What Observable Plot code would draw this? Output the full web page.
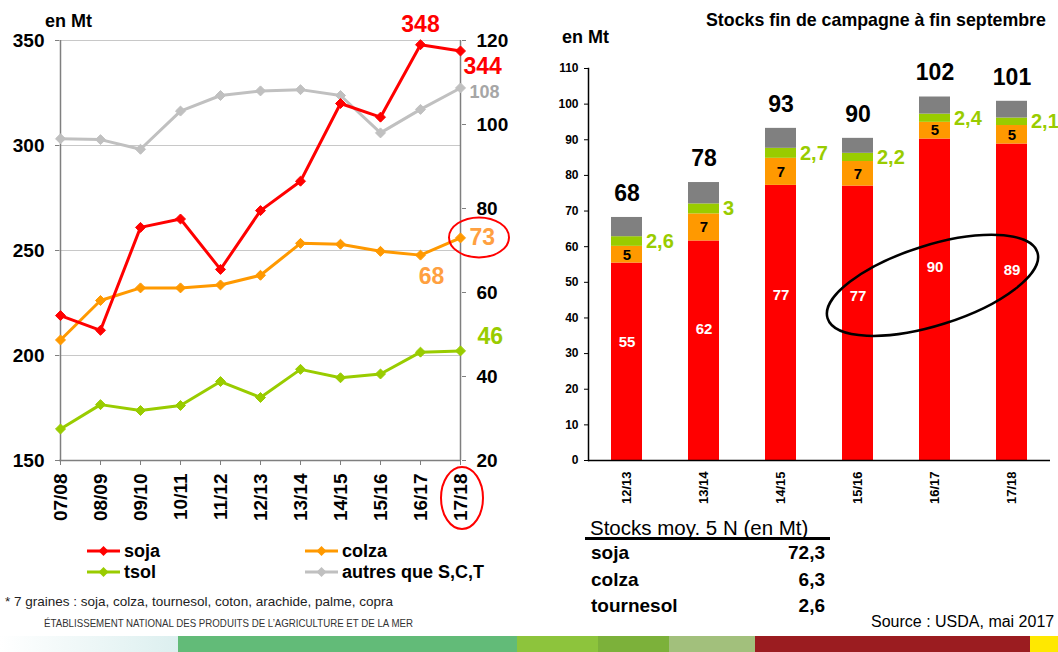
<!DOCTYPE html>
<html><head><meta charset="utf-8">
<script src="https://cdn.jsdelivr.net/npm/d3@7"></script>
<script src="https://cdn.jsdelivr.net/npm/@observablehq/plot@0.6"></script>
<style>
body{margin:0;background:#fff;font-family:"Liberation Sans",Arial,sans-serif;}
#root{position:relative;width:1058px;height:652px;overflow:hidden;background:#fff;}
.abs{position:absolute;white-space:nowrap;line-height:1;}
.b{font-weight:bold;}
</style></head><body><div id="root"></div>
<script>
// ---------- Left chart data (production, Mt) ----------
const seasons = ["07/08","08/09","09/10","10/11","11/12","12/13","13/14","14/15","15/16","16/17","17/18"];
const soja   = [219, 212, 261, 265, 241, 269, 283, 320, 313.5, 348, 345];      // left axis
const colza  = [48.7, 58.1, 61.1, 61.1, 61.8, 64.1, 71.7, 71.5, 69.8, 68.9, 73]; // right axis
const tsol   = [27.5, 33.3, 31.9, 33.1, 38.8, 35, 41.7, 39.7, 40.6, 45.8, 46.1];  // right axis
const autres = [96.6, 96.4, 94.1, 103.2, 106.9, 108, 108.3, 106.9, 98, 103.6, 108.7]; // right axis
const leftTicks = [150, 200, 250, 300, 350];
const rightTicks = [20, 40, 60, 80, 100, 120];
const gridTicks = [200, 250, 300, 350];
const seriesNames = ["soja", "colza", "tsol", "autres"];
const legendLabels = ["soja", "colza", "tsol", "autres que S,C,T"];
const lineColors = ["#ff0000", "#ff9900", "#99cc00", "#c0c0c0"];
const endLabels = ["348", "344", "108", "73", "68", "46"];

// ---------- Right chart data (stocks fin de campagne, Mt) ----------
const campagnes = ["12/13","13/14","14/15","15/16","16/17","17/18"];
const stockSoja   = [55.4, 61.6, 77.2, 77.0, 90.2, 88.8];
const stockColza  = [4.7, 7.6, 7.6, 6.9, 4.7, 5.2];
const stockTsol   = [2.7, 2.8, 2.8, 2.3, 2.3, 2.1];
const stockAutres = [5.4, 6.0, 5.6, 4.2, 4.8, 4.7];
const totalLabels = ["68","78","93","90","102","101"];
const sojaLabels  = ["55","62","77","77","90","89"];
const colzaLabels = ["5","7","7","7","5","5"];
const tsolLabels  = ["2,6","3","2,7","2,2","2,4","2,1"];
const barColors = ["#ff0000", "#ff9900", "#99cc00", "#808080"];
const stockTicks = [0,10,20,30,40,50,60,70,80,90,100,110];

// ---------- Table ----------
const tableTitle = "Stocks moy. 5 N (en Mt)";
const tableNames = ["soja", "colza", "tournesol"];
const tableValues = ["72,3", "6,3", "2,6"];

const FONT = '"Liberation Sans", Arial, sans-serif';
const root = document.getElementById("root");
function addText(txt, css, cls) {
  const d = document.createElement("div");
  d.className = "abs " + (cls || "");
  d.textContent = txt;
  Object.assign(d.style, css);
  root.appendChild(d);
  return d;
}

// ===== LEFT CHART =====
const toLeft = v => 150 + (v - 20) * 2; // right axis (20..120) -> left axis (150..350)
const rightSeries = {colza, tsol, autres};
const lineRows = [];
["autres", "tsol", "colza", "soja"].forEach(name => {
  seasons.forEach((s, i) => {
    const v = name === "soja" ? soja[i] : toLeft(rightSeries[name][i]);
    lineRows.push({season: s, serie: name, y: v});
  });
});
const n = seasons.length - 1;
const lblRows = [
  {x: seasons[n-1], y: soja[n-1], t: endLabels[0], c: "#ff0000", dx: 0, dy: -20, a: "middle", fs: 23},
  {x: seasons[n], y: soja[n], t: endLabels[1], c: "#ff0000", dx: 3, dy: 16, a: "start", fs: 23},
  {x: seasons[n], y: toLeft(autres[n]), t: endLabels[2], c: "#a6a6a6", dx: 9, dy: 4, a: "start", fs: 18},
  {x: seasons[n], y: toLeft(colza[n]), t: endLabels[3], c: "#ffa040", dx: 9, dy: 0, a: "start", fs: 23},
  {x: seasons[n-1], y: toLeft(colza[n-1]), t: endLabels[4], c: "#ffa040", dx: 11, dy: 22, a: "middle", fs: 23},
  {x: seasons[n], y: toLeft(tsol[n]), t: endLabels[5], c: "#99cc00", dx: 17, dy: -14, a: "start", fs: 23}
];
const left = Plot.plot({
  width: 530, height: 540,
  marginLeft: 59, marginRight: 69, marginTop: 40, marginBottom: 80,
  style: {fontFamily: FONT, fontWeight: "bold", overflow: "visible", background: "transparent", color: "#000"},
  x: {type: "point", domain: seasons, padding: 0, label: null},
  y: {domain: [150, 350], label: null},
  color: {domain: seriesNames, range: lineColors},
  marks: [
    Plot.ruleY(gridTicks, {stroke: "#c8c8c8", strokeWidth: 1}),
    Plot.ruleX([seasons[0], seasons[n]], {stroke: "#7f7f7f", strokeWidth: 1.5}),
    Plot.ruleY([150], {stroke: "#7f7f7f", strokeWidth: 1.5}),
    Plot.axisY({anchor: "left", ticks: leftTicks, tickSize: 4, tickPadding: 11, fontSize: 19, stroke: "#7f7f7f", fill: "#000", label: null}),
    Plot.axisY({anchor: "right", ticks: rightTicks.map(toLeft), tickFormat: d => String((d - 150) / 2 + 20), tickSize: 4, tickPadding: 11, fontSize: 19, stroke: "#7f7f7f", fill: "#000", label: null}),
    Plot.axisX({tickRotate: -90, tickSize: 5, tickPadding: 8, fontSize: 19, stroke: "#7f7f7f", fill: "#000", label: null}),
    Plot.line(lineRows, {x: "season", y: "y", z: "serie", stroke: "serie", strokeWidth: 3}),
    Plot.dot(lineRows, {x: "season", y: "y", fill: "serie", stroke: "serie", symbol: "diamond2", r: 4.5, strokeWidth: 1}),
    ...lblRows.map(r => Plot.text([r], {x: "x", y: "y", text: "t", fill: r.c, dx: r.dx, dy: r.dy, textAnchor: r.a, fontSize: r.fs, fontWeight: "bold"}))
  ]
});
root.appendChild(left);
Object.assign(left.style, {position: "absolute", left: "0px", top: "0px"});
{
  const xs = left.scale("x"), ys = left.scale("y");
  const sv = d3.select(left);
  const cx73 = xs.apply(seasons[n]) + 19, cy73 = ys.apply(toLeft(colza[n]));
  sv.append("ellipse").attr("cx", cx73).attr("cy", cy73).attr("rx", 30).attr("ry", 20)
    .attr("fill", "none").attr("stroke", "#ff0000").attr("stroke-width", 2);
  sv.append("ellipse").attr("cx", xs.apply(seasons[n]) + 2).attr("cy", ys.apply(150) + 38).attr("rx", 21).attr("ry", 31)
    .attr("fill", "none").attr("stroke", "#ff0000").attr("stroke-width", 2);
}

// ===== RIGHT CHART =====
const stockSeries = [stockSoja, stockColza, stockTsol, stockAutres];
const stackRows = campagnes.flatMap((c, i) => seriesNames.map((s, k) => ({c, serie: s, v: stockSeries[k][i]})));
const sumAt = (i, k) => stockSeries.slice(0, k).reduce((a, arr) => a + arr[i], 0);
const totRows = campagnes.map((c, i) => ({c, y: sumAt(i, 4), t: totalLabels[i]}));
const tsolRows = campagnes.map((c, i) => ({c, y: sumAt(i, 2) + stockTsol[i] / 2, t: tsolLabels[i]}));
const colzaRows = campagnes.map((c, i) => ({c, y: sumAt(i, 1) + stockColza[i] / 2, t: colzaLabels[i]}));
const sojaRows = campagnes.map((c, i) => ({c, y: stockSoja[i] * 0.6, t: sojaLabels[i]}));
const right = Plot.plot({
  width: 518, height: 520,
  marginLeft: 48, marginRight: 8, marginTop: 68, marginBottom: 60,
  style: {fontFamily: FONT, fontWeight: "bold", overflow: "visible", background: "transparent", color: "#000"},
  x: {domain: campagnes, paddingInner: 0.6, paddingOuter: 0.3, label: null},
  y: {domain: [0, 110], label: null},
  color: {domain: seriesNames, range: barColors},
  marks: [
    Plot.barY(stackRows, {x: "c", y: "v", fill: "serie", order: seriesNames}),
    Plot.ruleY([0], {stroke: "#000", strokeWidth: 1.5}),
    Plot.frame({anchor: "left", stroke: "#000", strokeWidth: 1.5}),
    Plot.axisY({ticks: stockTicks, tickSize: 4, tickPadding: 6, fontSize: 12, label: null}),
    Plot.axisX({tickRotate: -90, tickSize: 0, tickPadding: 11, fontSize: 13, label: null}),
    Plot.text(totRows, {x: "c", y: "y", text: "t", dy: -24, fontSize: 23, fill: "#000"}),
    Plot.text(tsolRows, {x: "c", y: "y", text: "t", dx: 19, textAnchor: "start", fontSize: 20, fill: "#99cc00"}),
    Plot.text(colzaRows, {x: "c", y: "y", text: "t", fontSize: 15, fill: "#000"}),
    Plot.text(sojaRows, {x: "c", y: "y", text: "t", fontSize: 15, fill: "#fff"})
  ]
});
root.appendChild(right);
Object.assign(right.style, {position: "absolute", left: "540px", top: "0px"});
{
  const xs = right.scale("x"), ys = right.scale("y");
  const cx = xs.apply(campagnes[4]) + xs.bandwidth / 2 - 2, cy = ys.apply(49);
  d3.select(right).append("ellipse").attr("cx", cx).attr("cy", cy).attr("rx", 110).attr("ry", 40)
    .attr("transform", `rotate(-17.5 ${cx} ${cy})`)
    .attr("fill", "none").attr("stroke", "#000").attr("stroke-width", 2.5);
}

// ===== TEXT OVERLAYS =====
addText("en Mt", {left: "45px", top: "12px", fontSize: "18px"}, "b");
addText("Stocks fin de campagne à fin septembre", {left: "706px", top: "12px", fontSize: "17.8px"}, "b");
addText("en Mt", {left: "562px", top: "28px", fontSize: "18px"}, "b");

// legend
const legPos = [[87, 551], [305, 551], [87, 572], [305, 572]];
legendLabels.forEach((lab, i) => {
  const [x, y] = legPos[i];
  const svg = d3.select(root).append("svg").attr("width", 36).attr("height", 14)
    .style("position", "absolute").style("left", x + "px").style("top", (y - 7) + "px");
  svg.append("line").attr("x1", 0).attr("x2", 33).attr("y1", 7).attr("y2", 7).attr("stroke", lineColors[i]).attr("stroke-width", 3);
  svg.append("path").attr("d", "M16.5,2L21.5,7L16.5,12L11.5,7Z").attr("fill", lineColors[i]);
  addText(lab, {left: (x + 37) + "px", top: (y - 9) + "px", fontSize: "18px", lineHeight: "18px", height: "18px"}, "b");
});

// footnotes
addText("* 7 graines : soja, colza, tournesol, coton, arachide, palme, copra", {left: "5px", top: "595px", fontSize: "13.5px", color: "#222"});
{
  const svg = d3.select(root).append("svg").attr("width", 560).attr("height", 20)
    .style("position", "absolute").style("left", "44px").style("top", "614px");
  svg.append("text").attr("x", 0).attr("y", 13).attr("textLength", 369).attr("lengthAdjust", "spacingAndGlyphs")
    .attr("font-size", 11.5).attr("font-family", FONT).attr("fill", "#333")
    .text("ÉTABLISSEMENT NATIONAL DES PRODUITS DE L’AGRICULTURE ET DE LA MER");
}

// table
addText(tableTitle, {left: "590px", top: "518px", fontSize: "20.5px"});
{
  const d = document.createElement("div");
  d.className = "abs";
  Object.assign(d.style, {left: "585px", top: "537px", width: "245px", height: "3px", background: "#000"});
  root.appendChild(d);
}
const rowY = [553, 580, 606];
tableNames.forEach((nm, i) => {
  addText(nm, {left: "591px", top: (rowY[i] - 10) + "px", fontSize: "19px"}, "b");
  addText(tableValues[i], {left: "725px", width: "100px", textAlign: "right", top: (rowY[i] - 10) + "px", fontSize: "19px"}, "b");
});
addText("Source : USDA, mai 2017", {left: "871px", top: "614px", fontSize: "16px"});

// bottom colour band
const bandSegs = [
  [0, 178, "linear-gradient(to right, #ffffff, #dcefef)"],
  [178, 517, "#62bb78"],
  [517, 598, "#8dc43c"],
  [598, 669, "#7cb13a"],
  [669, 755, "#a2c07c"],
  [755, 1030, "#9b1c20"],
  [1030, 1058, "#ffe800"]
];
bandSegs.forEach(([a, b, c]) => {
  const d = document.createElement("div");
  d.className = "abs";
  Object.assign(d.style, {left: a + "px", top: "636px", width: (b - a) + "px", height: "16px", background: c});
  root.appendChild(d);
});
</script></body></html>
